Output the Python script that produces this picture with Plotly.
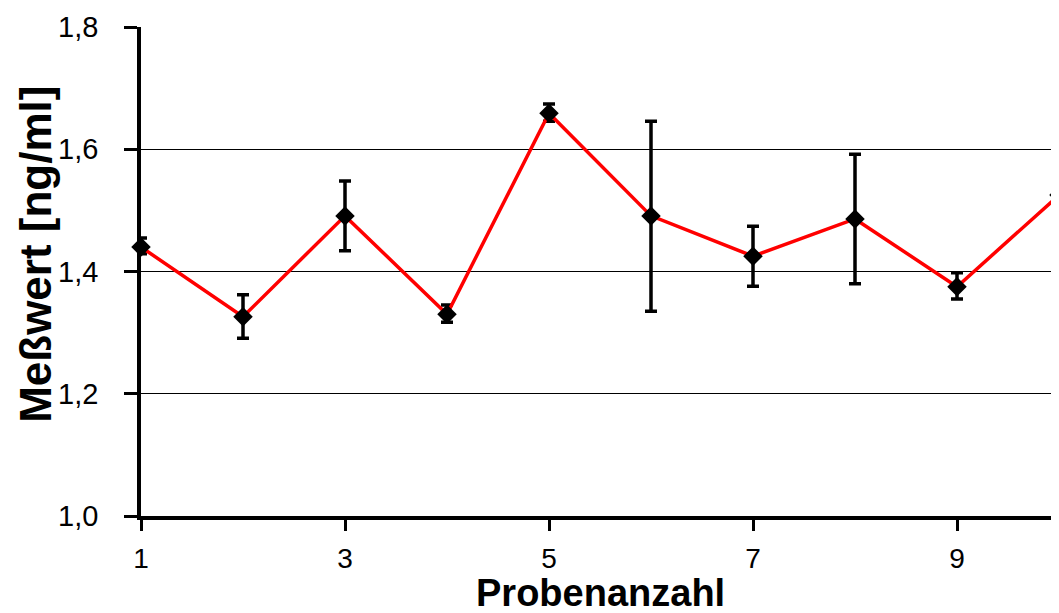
import plotly.graph_objects as go

probe = [1, 2, 3, 4, 5, 6, 7, 8, 9, 10]
messwert = [1.440, 1.326, 1.491, 1.330, 1.659, 1.491, 1.425, 1.486, 1.375, 1.525]
err_plus = [0.015, 0.036, 0.057, 0.015, 0.015, 0.155, 0.049, 0.106, 0.023, 0.149]
err_minus = [0.011, 0.035, 0.057, 0.013, 0.013, 0.156, 0.049, 0.106, 0.020, 0.149]

x_ticks = [1, 3, 5, 7, 9]
y_ticks = [1.0, 1.2, 1.4, 1.6, 1.8]
y_title = "<b>Meßwert [ng/ml]</b>"
x_title = "<b>Probenanzahl</b>"

fig = go.Figure()
fig.add_trace(go.Scatter(
    x=probe, y=messwert, mode="lines+markers",
    line=dict(color="#ff0000", width=3.5),
    marker=dict(symbol="diamond", size=15, color="black"),
    error_y=dict(type="data", symmetric=False, array=err_plus, arrayminus=err_minus,
                 color="black", thickness=3.5, width=6),
    cliponaxis=False, showlegend=False,
))

# page body has an 8px margin, so the figure is sized/offset to compensate
fig.update_layout(
    width=1051, height=605,
    margin=dict(l=133, r=0, t=19, b=97),
    paper_bgcolor="white", plot_bgcolor="white",
    separators=",.",
    font=dict(family="Arial, Liberation Sans, sans-serif", color="black"),
    xaxis=dict(
        range=[1, 10], tickvals=x_ticks, ticktext=[str(v) for v in x_ticks],
        showgrid=False, zeroline=False,
        showline=True, linecolor="black", linewidth=3.5,
        ticks="outside", ticklen=11, tickwidth=2.5, tickcolor="black",
        tickfont=dict(size=28), ticklabelstandoff=4,
        automargin=False,
    ),
    yaxis=dict(
        range=[1.0, 1.8], tickvals=y_ticks, tickformat=".1f",
        showgrid=True, gridcolor="black", gridwidth=1, zeroline=False,
        showline=True, linecolor="black", linewidth=3.5,
        ticks="outside", ticklen=13, tickwidth=2.5, tickcolor="black",
        tickfont=dict(size=29), ticklabelstandoff=20,
        automargin=False,
    ),
    annotations=[
        dict(text=y_title, textangle=-90, font=dict(size=44),
             xref="paper", yref="paper", x=0, y=0.534,
             xanchor="center", yanchor="middle", xshift=-105, showarrow=False),
        dict(text=x_title, font=dict(size=38),
             xref="paper", yref="paper", x=0.5, y=0,
             xanchor="center", yanchor="top", yshift=-54, showarrow=False),
    ],
)

fig.write_html("out.html")
